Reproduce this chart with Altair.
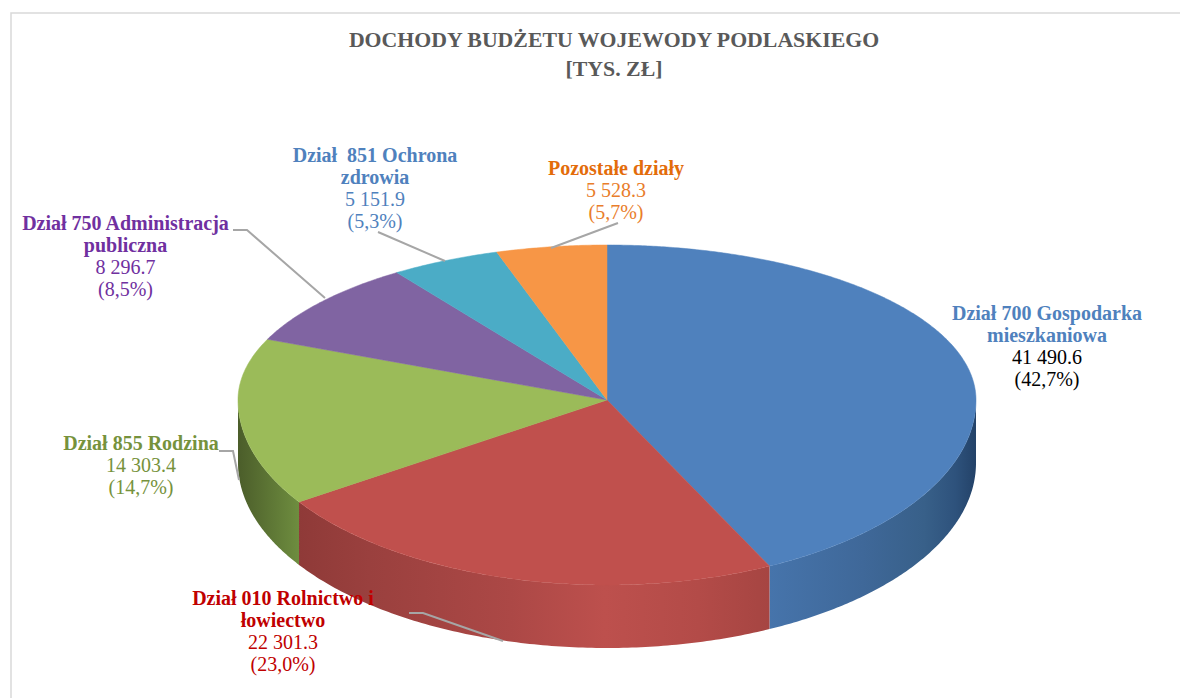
import altair as alt
import numpy as np
import pandas as pd

# ---- data ----
categories = ["Dział 700 Gospodarka mieszkaniowa", "Dział 010 Rolnictwo i łowiectwo",
              "Dział 855 Rodzina", "Dział 750 Administracja publiczna",
              "Dział 851 Ochrona zdrowia", "Pozostałe działy"]
values = [41490.6, 22301.3, 14303.4, 8296.7, 5151.9, 5528.3]
top_colors = ["#4f81bd", "#c0504d", "#9bbb59", "#8064a2", "#4bacc6", "#f79646"]
title_lines = ["DOCHODY BUDŻETU WOJEWODY PODLASKIEGO", "[TYS. ZŁ]"]
label_lines = [
    ["Dział 700 Gospodarka", "mieszkaniowa", "41 490.6", "(42,7%)"],
    ["Dział 010 Rolnictwo i", "łowiectwo", "22 301.3", "(23,0%)"],
    ["Dział 855 Rodzina", "14 303.4", "(14,7%)"],
    ["Dział 750 Administracja", "publiczna", "8 296.7", "(8,5%)"],
    ["Dział\u00a0 851 Ochrona", "zdrowia", "5 151.9", "(5,3%)"],
    ["Pozostałe działy", "5 528.3", "(5,7%)"],
]
bold_counts = [2, 2, 1, 2, 2, 1]
bold_colors = ["#4f81bd", "#c00000", "#76923c", "#7030a0", "#4f81bd", "#e36c0a"]
plain_colors = ["#000000", "#c00000", "#76923c", "#7030a0", "#4f81bd", "#e97d2b"]

# ---- layout of the annotations (image pixels) ----
label_anchor = [(1047, 320), (283, 605), (141, 450), (125.5, 230), (375, 162), (616, 175)]
leaders = [
    [(409, 613), (423, 613), (503, 641)],
    [(219, 451), (233, 451), (239, 480)],
    [(233, 230), (247, 230), (325, 298)],
    [(378, 232), (445, 261)],
    [(618, 223), (551, 248)],
]
CX, CY, RX, RY_BACK, RY_FRONT, DEPTH = 607, 400, 369, 155, 185, 63
W, H = 1172, 690
FONT = "Liberation Serif"
LINE = 22

x_enc = dict(scale=alt.Scale(domain=[8, 8 + W]), axis=None)
y_enc = dict(scale=alt.Scale(domain=[8 + H, 8]), axis=None)


def rim(deg):
    a = np.radians(np.asarray(deg, dtype=float))
    back = np.cos(a) > 0
    eff = np.where(back, np.arctan2(RY_BACK / RY_FRONT * np.sin(a), np.cos(a)), a)
    xs = CX + RX * np.sin(eff)
    ys = CY - np.where(back, RY_BACK, RY_FRONT) * np.cos(eff)
    return xs, ys


def xy(df, **kw):
    return dict(x=alt.X("x:Q", **x_enc), y=alt.Y("y:Q", **y_enc), **kw)


share = np.array(values) / sum(values) * 360
ends = np.cumsum(share)
starts = ends - share

layers = []

# frame
frame = pd.DataFrame({"x": [11, 11, 1180], "y": [698, 13, 13], "i": [0, 1, 2]})
layers.append(alt.Chart(frame).mark_line(color="#d9d9d9", strokeWidth=1.5)
              .encode(order="i:O", **xy(frame)))

# side walls
wall_stops = {
    0: [(0, "#4674ab"), (0.45, "#3f6899"), (0.75, "#386089"), (0.9, "#2e527c"), (1, "#234268")],
    1: [(0, "#8f3a38"), (0.15, "#9a403e"), (0.45, "#ac4846"), (0.65, "#bd504d"), (0.85, "#b34b48"), (1, "#a64542")],
    2: [(0, "#4b5d2a"), (1, "#6e8d3f")],
}
for idx, stops in wall_stops.items():
    lo, hi = max(starts[idx], 90), min(ends[idx], 270)
    ang = np.linspace(lo, hi, 120)
    xs, ys = rim(ang)
    d = pd.DataFrame({"x": xs, "y": ys, "y2": ys + DEPTH})
    layers.append(
        alt.Chart(d).mark_area(
            color=alt.Gradient(gradient="linear", x1=0, x2=1, y1=0, y2=0,
                               stops=[alt.GradientStop(offset=o, color=c) for o, c in stops])
        ).encode(x=alt.X("x:Q", **x_enc), y=alt.Y("y:Q", **y_enc), y2="y2:Q")
    )

# top faces
for i, color in enumerate(top_colors):
    ang = np.linspace(starts[i], ends[i], max(int(share[i]) * 2, 20))
    xs, ys = rim(ang)
    d = pd.DataFrame({"x": np.r_[CX, xs, CX], "y": np.r_[CY, ys, CY]})
    d["i"] = range(len(d))
    layers.append(alt.Chart(d).mark_line(fill=color, stroke=color, strokeWidth=0.5)
                  .encode(order="i:Q", **xy(d)))

# leader lines
for pts in leaders:
    d = pd.DataFrame(pts, columns=["x", "y"])
    d["i"] = range(len(d))
    layers.append(alt.Chart(d).mark_line(color="#a6a6a6", strokeWidth=2)
                  .encode(order="i:Q", **xy(d)))

# labels
rows = []
for lines, n, bc, pc, (ax, ay) in zip(label_lines, bold_counts, bold_colors, plain_colors, label_anchor):
    for k, t in enumerate(lines):
        rows.append({"x": ax, "y": ay + k * LINE, "t": t, "c": bc if k < n else pc,
                     "w": "bold" if k < n else "normal"})
labels = pd.DataFrame(rows)
for w in ("bold", "normal"):
    d = labels[labels.w == w]
    layers.append(alt.Chart(d).mark_text(font=FONT, fontSize=20, fontWeight=w, baseline="alphabetic", align="center")
                  .encode(text="t:N", color=alt.Color("c:N", scale=None), **xy(d)))

# title
d = pd.DataFrame({"x": [614, 614], "y": [47, 76], "t": title_lines})
layers.append(alt.Chart(d).mark_text(font=FONT, fontSize=21.8, fontWeight="bold", color="#595959",
                                     baseline="alphabetic", align="center")
              .encode(text="t:N", **xy(d)))

chart = alt.layer(*layers).properties(
    width=W, height=H, padding=0, autosize=alt.AutoSizeParams(type="none"), background="white"
).configure_view(stroke=None)

chart.save("out.html", embed_options={"renderer": "svg", "actions": False})
